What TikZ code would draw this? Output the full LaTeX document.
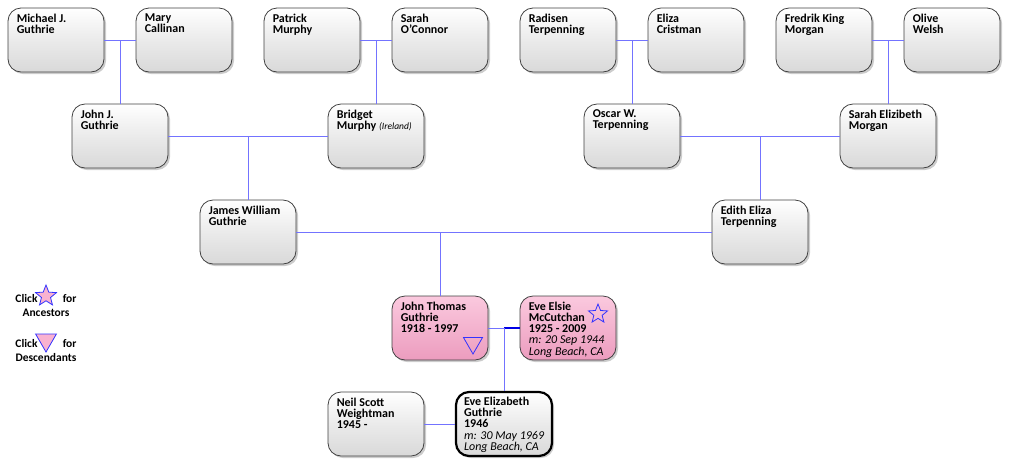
\documentclass[tikz,border=0pt]{standalone}
\usepackage{fontspec}
\setmainfont{Carlito}
\usetikzlibrary{shapes.geometric, shadows, positioning, calc}
\definecolor{rose}{HTML}{F9B2D0}
\definecolor{rosedark}{HTML}{EC9CBE}

\begin{document}
\begin{tikzpicture}[
    x=1pt, y=-1pt,
    person/.style={draw=black!75, line width=0.8pt, rounded corners=13pt, minimum width=96pt, minimum height=64pt,
        inner sep=0pt, top color=white, bottom color=black!15, middle color=black!8,
        drop shadow={shadow xshift=2pt, shadow yshift=-2pt, opacity=0.4}},
    focus/.style={person, top color=rose!70, middle color=rose, bottom color=rosedark},
    self/.style={person, line width=2.2pt, draw=black},
    info/.style={anchor=north west, align=left, inner sep=0pt, font=\fontsize{12}{11.2}\selectfont\bfseries},
    note/.style={font=\mdseries\itshape\fontsize{11.5}{11.2}\selectfont},
    link/.style={draw=blue!55, line width=0.9pt},
    starmark/.style={star, star points=5, star point ratio=2.3, draw=blue!80, line width=0.8pt, minimum size=20pt, inner sep=0pt},
    downmark/.style={regular polygon, regular polygon sides=3, shape border rotate=180, draw=blue!80, line width=0.8pt, minimum size=22pt, inner sep=0pt},
    ]
    \useasboundingbox (0,0) rectangle (1025,459);

    % great-grandparents
    \node (MG) [person] at (56,40) {};
    \node (MC) [person] at (184,40) {};
    \node (PM) [person] at (312,40) {};
    \node (SO) [person] at (440,40) {};
    \node (RT) [person] at (568,40) {};
    \node (EC) [person] at (696,40) {};
    \node (FM) [person] at (824,40) {};
    \node (OW) [person] at (952,40) {};
    % grandparents
    \node (JG) [person] at (120,136) {};
    \node (BM) [person] at (376,136) {};
    \node (OT) [person] at (632,136) {};
    \node (SM) [person] at (888,136) {};
    % parents
    \node (JW) [person] at (248,232) {};
    \node (ET) [person] at (760,232) {};
    % couple
    \node (JT) [focus] at (440,328) {};
    \node (EE) [focus] at (568,328) {};
    % self and spouse
    \node (NW) [person] at (376,424) {};
    \node (EG) [self] at (504,424) {};

    % texts
    \node (tMG) [info] at ($(MG.north west)+(9,6)$) {Michael J.\\Guthrie};
    \node (tMC) [info] at ($(MC.north west)+(9,6)$) {Mary\\Callinan};
    \node (tPM) [info] at ($(PM.north west)+(9,6)$) {Patrick\\Murphy};
    \node (tSO) [info] at ($(SO.north west)+(9,6)$) {Sarah\\O'Connor};
    \node (tRT) [info] at ($(RT.north west)+(9,6)$) {Radisen\\Terpenning};
    \node (tEC) [info] at ($(EC.north west)+(9,6)$) {Eliza\\Cristman};
    \node (tFM) [info] at ($(FM.north west)+(9,6)$) {Fredrik King\\Morgan};
    \node (tOW) [info] at ($(OW.north west)+(9,6)$) {Olive\\Welsh};
    \node (tJG) [info] at ($(JG.north west)+(9,6)$) {John J.\\Guthrie};
    \node (tBM) [info] at ($(BM.north west)+(9,6)$) {Bridget\\Murphy {\mdseries\itshape\fontsize{9.5}{11}\selectfont(Ireland)}};
    \node (tOT) [info] at ($(OT.north west)+(9,6)$) {Oscar W.\\Terpenning};
    \node (tSM) [info] at ($(SM.north west)+(9,6)$) {Sarah Elizibeth\\Morgan};
    \node (tJW) [info] at ($(JW.north west)+(9,6)$) {James William\\Guthrie};
    \node (tET) [info] at ($(ET.north west)+(9,6)$) {Edith Eliza\\Terpenning};
    \node (tJT) [info] at ($(JT.north west)+(9,6)$) {John Thomas\\Guthrie\\1918 - 1997};
    \node (tEE) [info] at ($(EE.north west)+(9,6)$) {Eve Elsie\\McCutchan\\1925 - 2009\\{\itshape\mdseries m: 20 Sep 1944}\\{\itshape\mdseries Long Beach, CA}};
    \node (tNW) [info] at ($(NW.north west)+(9,6)$) {Neil Scott\\Weightman\\1945 -};
    \node (tEG) [info] at ($(EG.north west)+(9,6)$) {Eve Elizabeth\\Guthrie\\1946\\{\itshape\mdseries m: 30 May 1969}\\{\itshape\mdseries Long Beach, CA}};

    % marks
    \node (S1) [starmark] at (598,314) {};
    \node (D1) [downmark] at (473,343) {};

    % connectors
    \coordinate (c1) at (120,40);
    \coordinate (c2) at (376,40);
    \coordinate (c3) at (632,40);
    \coordinate (c4) at (888,40);
    \coordinate (c5) at (248,136);
    \coordinate (c6) at (760,136);
    \coordinate (c7) at (440,232);
    \coordinate (c8) at (504,328);
    \draw[link] (MG) -- (MC);
    \draw[link] (c1) -- (JG);
    \draw[link] (PM) -- (SO);
    \draw[link] (c2) -- (BM);
    \draw[link] (RT) -- (EC);
    \draw[link] (c3) -- (OT);
    \draw[link] (FM) -- (OW);
    \draw[link] (c4) -- (SM);
    \draw[link] (JG) -- (BM);
    \draw[link] (c5) -- (JW);
    \draw[link] (OT) -- (SM);
    \draw[link] (c6) -- (ET);
    \draw[link] (JW) -- (ET);
    \draw[link] (c7) -- (JT);
    \draw[link] (JT) -- (EE);
    \draw[link, draw=blue!90!black, line width=1.3pt] (c8) -- (EE);
    \draw[link] (c8) -- (EG);
    \draw[link] (NW) -- (EG);

    % legend
    \node (LA) [info, anchor=center, align=center, font=\fontsize{11.5}{14}\selectfont\bfseries] at (46,305) {Click \hspace{20pt} for\\Ancestors};
    \node (LS) [starmark, fill=rose, minimum size=22pt] at (46,296) {};
    \node (LD) [info, anchor=center, align=center, font=\fontsize{11.5}{14}\selectfont\bfseries] at (46,350) {Click \hspace{20pt} for\\Descendants};
    \node (LT) [downmark, fill=rose, minimum size=24pt] at (46,340) {};
\end{tikzpicture}
\end{document}
